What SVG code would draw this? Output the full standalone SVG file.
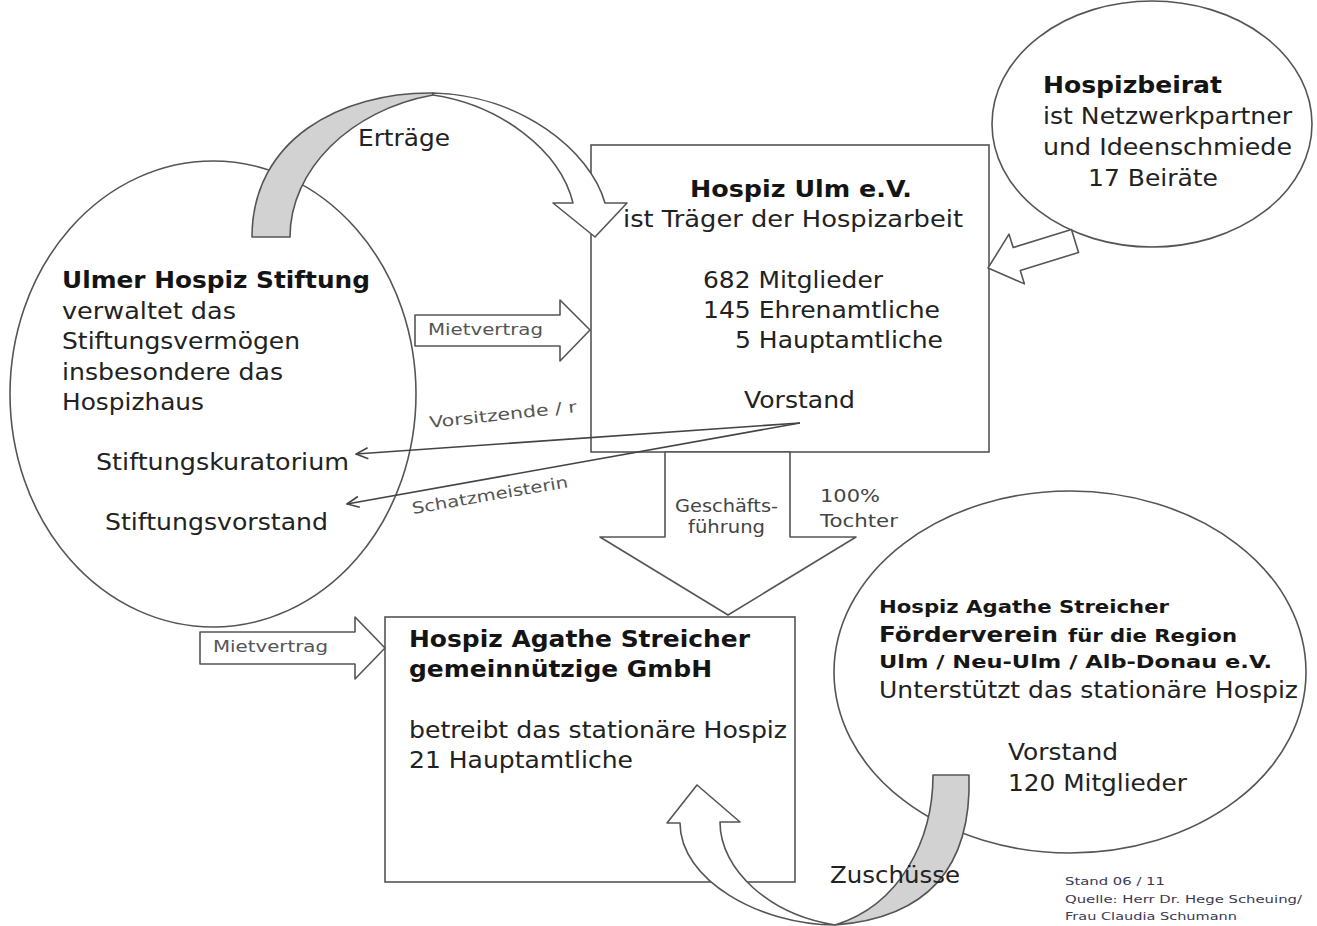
<svg xmlns="http://www.w3.org/2000/svg" width="1317" height="926" viewBox="0 0 1317 926">
<style>
text { font-family: "DejaVu Sans", Verdana, sans-serif; fill: #222; }
.t { font-size: 23px; }
.b { font-size: 23px; font-weight: bold; fill: #141414; }
.s { font-size: 16px; fill: #555; }
.l { font-size: 18px; fill: #444; }
.fb { font-size: 18px; font-weight: bold; fill: #161616; }
.fn { font-size: 11px; fill: #3a3a55; }
.shape { fill: #fff; stroke: #555; stroke-width: 1.6; }
.gray { fill: #d2d2d2; stroke: #555; stroke-width: 1.6; stroke-linejoin: round; }
.white { fill: #fff; stroke: #555; stroke-width: 1.6; stroke-linejoin: round; }
.ln { fill: none; stroke: #444; stroke-width: 1.6; }
</style>
<defs>
<marker id="open" viewBox="0 0 14 14" refX="13" refY="7" markerWidth="14" markerHeight="14" orient="auto" markerUnits="userSpaceOnUse">
<path d="M1,1.5 L13,7 L1,12.5" fill="none" stroke="#444" stroke-width="1.6"/>
</marker>
</defs>
<rect width="1317" height="926" fill="#fff"/>

<g id="stiftung">
<ellipse class="shape" cx="213" cy="394" rx="203" ry="233"/>
<text class="b" x="62" y="288" textLength="308" lengthAdjust="spacingAndGlyphs">Ulmer Hospiz Stiftung</text>
<text class="t" x="62" y="319" textLength="174" lengthAdjust="spacingAndGlyphs">verwaltet das</text>
<text class="t" x="62" y="349" textLength="238" lengthAdjust="spacingAndGlyphs">Stiftungsvermögen</text>
<text class="t" x="62" y="380" textLength="221" lengthAdjust="spacingAndGlyphs">insbesondere das</text>
<text class="t" x="62" y="410" textLength="142" lengthAdjust="spacingAndGlyphs">Hospizhaus</text>
<text class="t" x="96" y="470" textLength="253" lengthAdjust="spacingAndGlyphs">Stiftungskuratorium</text>
<text class="t" x="105" y="530" textLength="223" lengthAdjust="spacingAndGlyphs">Stiftungsvorstand</text>
</g>

<g id="beirat">
<ellipse class="shape" cx="1152" cy="124" rx="160" ry="123"/>
<text class="b" x="1043" y="93" textLength="179" lengthAdjust="spacingAndGlyphs">Hospizbeirat</text>
<text class="t" x="1043" y="124" textLength="249" lengthAdjust="spacingAndGlyphs">ist Netzwerkpartner</text>
<text class="t" x="1043" y="155" textLength="249" lengthAdjust="spacingAndGlyphs">und Ideenschmiede</text>
<text class="t" x="1088" y="186" textLength="130" lengthAdjust="spacingAndGlyphs">17 Beiräte</text>
</g>

<g id="foerderverein">
<ellipse class="shape" cx="1070" cy="672" rx="236" ry="181"/>
<text class="fb" x="879" y="613" textLength="290" lengthAdjust="spacingAndGlyphs">Hospiz Agathe Streicher</text>
<text class="fb" x="879" y="642" style="font-size:22px" textLength="179" lengthAdjust="spacingAndGlyphs">Förderverein</text>
<text class="fb" x="1068" y="642" textLength="169" lengthAdjust="spacingAndGlyphs">für die Region</text>
<text class="fb" x="879" y="668" textLength="393" lengthAdjust="spacingAndGlyphs">Ulm / Neu-Ulm / Alb-Donau e.V.</text>
<text class="t" x="879" y="698" textLength="419" lengthAdjust="spacingAndGlyphs">Unterstützt das stationäre Hospiz</text>
<text class="t" x="1008" y="760" textLength="110" lengthAdjust="spacingAndGlyphs">Vorstand</text>
<text class="t" x="1008" y="791" textLength="179" lengthAdjust="spacingAndGlyphs">120 Mitglieder</text>
</g>

<g id="hospiz-ulm">
<rect class="shape" x="591" y="145" width="398" height="307"/>
<text class="b" x="690" y="197" textLength="222" lengthAdjust="spacingAndGlyphs">Hospiz Ulm e.V.</text>
<text class="t" x="623" y="227" textLength="340" lengthAdjust="spacingAndGlyphs">ist Träger der Hospizarbeit</text>
<text class="t" x="703" y="288" textLength="180" lengthAdjust="spacingAndGlyphs">682 Mitglieder</text>
<text class="t" x="703" y="318" textLength="237" lengthAdjust="spacingAndGlyphs">145 Ehrenamtliche</text>
<text class="t" x="735" y="348" textLength="208" lengthAdjust="spacingAndGlyphs">5 Hauptamtliche</text>
<text class="t" x="744" y="408" textLength="111" lengthAdjust="spacingAndGlyphs">Vorstand</text>
</g>

<g id="gmbh">
<rect class="shape" x="385" y="617" width="410" height="265"/>
<text class="b" x="409" y="647" textLength="341" lengthAdjust="spacingAndGlyphs">Hospiz Agathe Streicher</text>
<text class="b" x="409" y="677" textLength="303" lengthAdjust="spacingAndGlyphs">gemeinnützige GmbH</text>
<text class="t" x="409" y="738" textLength="378" lengthAdjust="spacingAndGlyphs">betreibt das stationäre Hospiz</text>
<text class="t" x="409" y="768" textLength="224" lengthAdjust="spacingAndGlyphs">21 Hauptamtliche</text>
</g>

<g id="connectors">
<!-- Erträge curved arrow -->
<path class="gray" d="M252,237 L290,237 C290,170 350,110 433,95 L433,93 C340,92 252,140 252,237 Z"/>
<path class="white" d="M433,93 C520,95 590,150 605,203 L627,203 L595,237 L553,203 L573,203 C560,150 500,105 433,95 Z"/>
<text class="t" x="358" y="146" textLength="92" lengthAdjust="spacingAndGlyphs">Erträge</text>

<!-- Zuschüsse curved arrow -->
<path class="gray" d="M933,775 L969,775 C972,870 925,918 835,925 C900,905 933,840 933,775 Z"/>
<path class="white" d="M835,925 C760,925 680,880 680,823 L667,823 L697,785 L740,822 L720,822 C720,870 770,915 835,925 Z"/>
<text class="t" x="830" y="883" textLength="130" lengthAdjust="spacingAndGlyphs">Zuschüsse</text>

<!-- Mietvertrag arrows -->
<path class="white" d="M415,315 L560,315 L560,300 L590,330 L560,361 L560,346 L415,346 Z"/>
<text class="s" x="428" y="335" textLength="115" lengthAdjust="spacingAndGlyphs">Mietvertrag</text>
<path class="white" d="M200,632 L355,632 L355,617 L385,648 L355,679 L355,664 L200,664 Z"/>
<text class="s" x="213" y="652" textLength="115" lengthAdjust="spacingAndGlyphs">Mietvertrag</text>

<!-- Hospizbeirat arrow -->
<path class="white" transform="translate(1075,241) rotate(162.8)" d="M0,-12 L61,-12 L61,-26 L91,0 L61,26 L61,12 L0,12 Z"/>

<!-- big down arrow -->
<path class="white" d="M665,452 L790,452 L790,537 L856,537 L728,615 L600,537 L665,537 Z"/>
<text class="l" x="675" y="512" textLength="103" lengthAdjust="spacingAndGlyphs">Geschäfts-</text>
<text class="l" x="688" y="533" textLength="77" lengthAdjust="spacingAndGlyphs">führung</text>
<text class="l" x="820" y="502" textLength="60" lengthAdjust="spacingAndGlyphs">100%</text>
<text class="l" x="820" y="527" textLength="78" lengthAdjust="spacingAndGlyphs">Tochter</text>

<!-- Vorstand lines -->
<line class="ln" x1="800" y1="423" x2="356" y2="454" marker-end="url(#open)"/>
<line class="ln" x1="800" y1="423" x2="347" y2="504" marker-end="url(#open)"/>
<text class="s" x="430" y="428" transform="rotate(-6.2 430 428)" textLength="148" lengthAdjust="spacingAndGlyphs">Vorsitzende / r</text>
<text class="s" x="413" y="514" transform="rotate(-9.8 413 514)" textLength="158" lengthAdjust="spacingAndGlyphs">Schatzmeisterin</text>
</g>

<g id="footer">
<text class="fn" x="1065" y="885" textLength="100" lengthAdjust="spacingAndGlyphs">Stand 06 / 11</text>
<text class="fn" x="1065" y="903" textLength="237" lengthAdjust="spacingAndGlyphs">Quelle: Herr Dr. Hege Scheuing/</text>
<text class="fn" x="1065" y="920" textLength="172" lengthAdjust="spacingAndGlyphs">Frau Claudia Schumann</text>
</g>
</svg>
